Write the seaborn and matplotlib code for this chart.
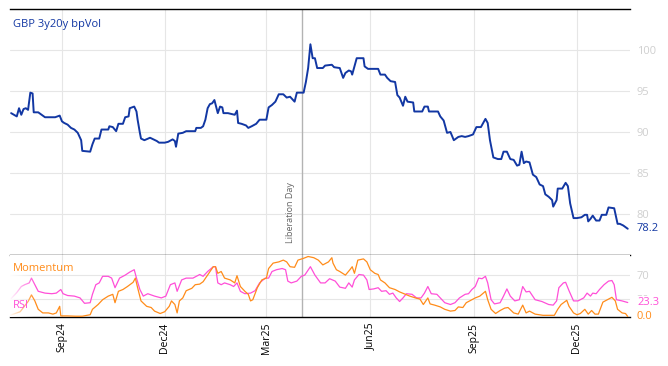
import numpy as np
import pandas as pd
import matplotlib
matplotlib.use("Agg")
import matplotlib.pyplot as plt
import matplotlib.dates as mdates
from matplotlib.patches import Rectangle
import matplotlib.transforms as mtransforms
import seaborn as sns

# ---------------- data (day offsets from start_date) ----------------
start_date = "2024-07-17"
end_offset = 549
event_date = "2025-04-02"
event_label = "Liberation Day"
title = "GBP 3y20y bpVol"

vol_days = [1, 6, 8, 10, 12, 14, 16, 18, 20, 21, 25, 28, 31, 35, 40, 44, 46, 48, 51, 54,
            57, 60, 63, 64, 71, 73, 75, 79, 81, 87, 88, 91, 94, 96, 100, 102, 105, 106, 110, 112,
            113, 115, 116, 119, 124, 127, 130, 132, 137, 140, 144, 146, 147, 149, 153, 156, 164, 165, 169, 171,
            173, 175, 177, 179, 181, 184, 186, 188, 189, 193, 196, 199, 201, 202, 205, 209, 211, 214, 218, 221,
            227, 229, 232, 235, 238, 242, 245, 248, 250, 252, 254, 260, 262, 264, 266, 268, 270, 272, 277, 279,
            285, 287, 292, 295, 297, 300, 302, 303, 305, 307, 313, 314, 317, 326, 328, 332, 334, 337, 341, 343,
            345, 348, 350, 352, 357, 358, 365, 367, 370, 371, 379, 381, 384, 387, 390, 393, 397, 400, 403, 406,
            410, 413, 417, 421, 423, 425, 428, 432, 435, 437, 440, 443, 446, 449, 451, 453, 455, 457, 460, 463,
            466, 469, 472, 474, 477, 480, 481, 484, 485, 489, 492, 494, 496, 499, 502, 506, 509, 511, 512, 514,
            516, 519, 522, 524, 528, 530, 535, 538, 540, 543, 547]
vol_vals = [92.3, 91.9, 92.9, 92.1, 92.8, 92.9, 92.7, 94.8, 94.7, 92.4, 92.4, 92.1, 91.8, 91.8, 91.8, 92.0, 91.3, 91.1, 90.9, 90.5,
            90.3, 89.9, 89.0, 87.7, 87.6, 88.5, 89.2, 89.2, 90.3, 90.3, 90.7, 90.6, 90.1, 91.0, 91.0, 91.8, 91.9, 92.9, 93.1, 92.5,
            91.5, 89.9, 89.2, 89.0, 89.3, 89.1, 88.9, 88.7, 88.7, 88.8, 89.1, 88.9, 88.2, 89.8, 89.9, 90.1, 90.1, 90.5, 90.5, 90.7,
            91.5, 92.9, 93.4, 93.5, 93.9, 92.3, 93.1, 93.0, 92.3, 92.3, 92.2, 92.1, 92.6, 91.1, 91.0, 90.8, 90.5, 90.7, 91.0, 91.5,
            91.5, 93.0, 93.3, 93.7, 94.6, 94.6, 94.2, 94.3, 94.0, 93.7, 94.8, 94.8, 96.1, 97.8, 100.7, 99.0, 99.0, 97.8, 97.8, 98.1,
            98.2, 97.9, 97.8, 96.6, 97.2, 97.5, 97.4, 97.0, 98.0, 99.0, 99.0, 98.0, 97.7, 97.7, 97.0, 97.0, 96.6, 96.2, 96.1, 94.5,
            94.2, 93.2, 94.3, 93.7, 93.6, 92.5, 92.5, 93.1, 93.1, 92.5, 92.5, 91.9, 91.4, 89.9, 90.0, 89.0, 89.4, 89.5, 89.4, 89.5,
            89.7, 90.6, 90.6, 91.6, 91.1, 89.0, 86.9, 86.7, 86.7, 87.6, 87.6, 86.7, 86.6, 85.9, 86.0, 87.6, 86.2, 86.4, 86.3, 84.8,
            84.5, 83.6, 83.4, 82.4, 82.1, 81.7, 80.9, 81.7, 83.1, 83.1, 83.8, 83.4, 81.3, 79.5, 79.5, 79.6, 79.9, 79.9, 79.1, 79.4,
            79.8, 79.2, 79.2, 79.9, 79.9, 80.8, 80.7, 78.8, 78.8, 78.6, 78.2]

mom_days = [0, 9, 16, 19, 22, 25, 29, 34, 38, 41, 44, 45, 51, 58, 64, 71, 73, 78, 82, 87,
            91, 93, 96, 100, 104, 109, 111, 113, 116, 121, 125, 128, 133, 137, 141, 143, 146, 148, 150, 153,
            156, 161, 164, 168, 171, 175, 180, 182, 184, 187, 190, 195, 199, 201, 204, 208, 211, 213, 215, 219,
            223, 227, 229, 233, 238, 242, 245, 248, 252, 255, 260, 264, 269, 273, 277, 282, 285, 286, 289, 292,
            297, 301, 303, 305, 308, 313, 316, 319, 323, 326, 328, 332, 336, 341, 345, 350, 354, 359, 363, 366,
            370, 372, 376, 381, 385, 390, 394, 397, 401, 404, 407, 412, 416, 421, 423, 426, 430, 434, 438, 441,
            446, 450, 454, 457, 460, 465, 472, 482, 485, 488, 493, 495, 499, 502, 505, 509, 512, 515, 518, 521,
            525, 528, 533, 536, 538, 542, 545, 547]
mom_vals = [2, 8, 25, 36, 26, 12, 6, 6, 4, 6, 17, 1, 1, 0.5, 0.5, 3, 12, 20, 28, 34,
            37, 23, 42, 45, 50, 57, 64, 48, 26, 17, 15, 9, 5, 8, 17, 26, 20, 6, 26, 31,
            43, 47, 53, 54, 58, 69, 83, 83, 72, 75, 64, 61, 56, 68, 50, 42, 37, 26, 28, 48,
            61, 64, 80, 89, 91, 94, 91, 83, 82, 94, 97, 100, 98, 94, 86, 91, 98, 89, 78, 75,
            69, 78, 83, 72, 94, 96, 91, 78, 72, 70, 61, 56, 48, 45, 41, 37, 34, 31, 29, 20,
            31, 21, 19, 16, 12, 9, 10, 16, 15, 23, 26, 31, 34, 42, 28, 12, 5, 10, 14, 15,
            6, 4, 19, 6, 9, 4, 2, 2, 12, 20, 27, 17, 6, 3, 5, 12, 4, 10, 4, 4,
            24, 27, 32, 26, 12, 6, 5, 0.0]

rsi_days = [1, 6, 10, 13, 17, 19, 22, 25, 31, 37, 41, 45, 47, 51, 57, 62, 66, 71, 73, 76,
            79, 82, 87, 90, 93, 97, 102, 106, 110, 112, 115, 118, 122, 128, 134, 138, 142, 146, 148, 152,
            156, 162, 165, 168, 171, 175, 180, 182, 184, 187, 190, 195, 198, 201, 204, 208, 213, 217, 221, 226,
            229, 232, 236, 241, 244, 246, 249, 254, 258, 261, 266, 270, 275, 279, 283, 288, 292, 297, 300, 303,
            305, 309, 313, 316, 318, 322, 326, 329, 333, 336, 339, 342, 345, 348, 351, 356, 360, 364, 367, 370,
            373, 378, 381, 385, 390, 394, 398, 403, 406, 409, 412, 415, 418, 421, 423, 426, 429, 434, 437, 440,
            443, 447, 451, 454, 457, 460, 465, 471, 477, 481, 484, 486, 490, 492, 495, 499, 503, 508, 511, 514,
            516, 519, 522, 526, 530, 533, 535, 537, 542, 547]
rsi_vals = [30, 40, 50, 53, 56, 64, 53, 42, 39, 38, 39, 45, 38, 35, 34, 31, 22, 23, 37, 53,
            56, 67, 67, 64, 48, 64, 69, 74, 78, 64, 45, 34, 38, 34, 31, 34, 53, 56, 42, 61,
            64, 64, 67, 70, 67, 75, 83, 83, 56, 53, 56, 53, 50, 56, 42, 38, 39, 43, 56, 64,
            64, 75, 78, 80, 78, 59, 56, 59, 67, 69, 83, 69, 56, 56, 63, 59, 49, 47, 56, 49,
            61, 70, 69, 61, 45, 46, 48, 42, 43, 37, 39, 31, 25, 31, 38, 37, 31, 31, 39, 50,
            38, 37, 31, 23, 20, 23, 31, 37, 38, 45, 50, 64, 63, 67, 56, 28, 21, 23, 34, 46,
            34, 26, 28, 50, 41, 42, 28, 25, 20, 19, 26, 48, 56, 57, 43, 26, 26, 31, 39, 34,
            39, 38, 45, 53, 59, 60, 53, 28, 26, 23.3]

vol_ticks = [80, 85, 90, 95, 100]
osc_ticks = [30, 70]

# ---------------- styling ----------------
BLUE = "#1237a3"
ORANGE = "#ff8c1a"
MAGENTA = "#ff4fd8"
GRID = "#e6e6e6"
TICKLBL = "#cfcfcf"

sns.set_style("white")
plt.rcParams["font.family"] = ["Open Sans", "DejaVu Sans"]

t0 = pd.Timestamp(start_date)
vol_df = pd.DataFrame({"date": t0 + pd.to_timedelta(vol_days, unit="D"), "vol": vol_vals})
mom_df = pd.DataFrame({"date": t0 + pd.to_timedelta(mom_days, unit="D"), "val": mom_vals})
rsi_df = pd.DataFrame({"date": t0 + pd.to_timedelta(rsi_days, unit="D"), "val": rsi_vals})

fig = plt.figure(figsize=(6.68, 3.66), dpi=100)
ax1 = fig.add_axes([10 / 668, 1 - 255 / 366, 620 / 668, 246 / 366])
ax2 = fig.add_axes([10 / 668, 1 - 317 / 366, 620 / 668, 62 / 366], sharex=ax1)

sns.lineplot(data=vol_df, x="date", y="vol", ax=ax1, color=BLUE, lw=1.4, zorder=3)
sns.lineplot(data=rsi_df, x="date", y="val", ax=ax2, color=MAGENTA, lw=0.9, zorder=3)
sns.lineplot(data=mom_df, x="date", y="val", ax=ax2, color=ORANGE, lw=0.9, zorder=3)

ev = pd.Timestamp(event_date)
for ax in (ax1, ax2):
    ax.axvline(ev, color="#b3b3b3", lw=1.0, zorder=2)
    ax.set_xlabel("")
    ax.set_ylabel("")
    ax.grid(True, color=GRID, lw=0.8, zorder=0)
    ax.set_axisbelow(True)
    ax.spines["left"].set_visible(False)
    ax.spines["right"].set_visible(False)
    for s in ("top", "bottom"):
        ax.spines[s].set_color("black")
        ax.spines[s].set_linewidth(1.0)
    ax.yaxis.tick_right()
    ax.tick_params(axis="y", length=0, pad=5, labelcolor=TICKLBL, labelsize=8)
    ax.tick_params(axis="x", direction="in", length=4, width=1, color="black")

ax1.set_xlim(t0, t0 + pd.Timedelta(days=end_offset))
ax1.set_ylim(75, 105)
ax1.set_yticks(vol_ticks)
ax2.set_ylim(-0.8, 102.5)
ax2.set_yticks(osc_ticks)
ax2.spines["top"].set_visible(False)

ax2.xaxis.set_major_locator(mdates.MonthLocator(bymonth=[3, 6, 9, 12]))
ax2.xaxis.set_major_formatter(mdates.DateFormatter("%b%y"))
plt.setp(ax1.get_xticklabels(), visible=False)
ax2.tick_params(axis="x", labelrotation=90, labelsize=7.5, labelcolor="black", pad=4)

# texts
ax1.text(0.005, 0.935, title, transform=ax1.transAxes, color=BLUE, fontsize=8, va="center", ha="left")
off = mtransforms.offset_copy(ax1.transData, fig=fig, x=-7, y=0, units="dots")
ax1.text(ev, 76.5, event_label, rotation=90, ha="right", va="bottom", color="#666666",
         fontsize=6.5, transform=off)

ax1.annotate(f"{vol_vals[-1]:.1f}", xy=(1, vol_vals[-1]), xycoords=("axes fraction", "data"),
             xytext=(5, 0), textcoords="offset points", va="center", ha="left", color=BLUE, fontsize=8)
ax2.annotate(f"{rsi_vals[-1]:.1f}", xy=(1, rsi_vals[-1]), xycoords=("axes fraction", "data"),
             xytext=(5, 0), textcoords="offset points", va="center", ha="left", color=MAGENTA, fontsize=8,
             bbox=dict(boxstyle="square,pad=0.05", fc="white", ec="none"))
ax2.annotate(f"{mom_vals[-1]:.1f}", xy=(1, mom_vals[-1]), xycoords=("axes fraction", "data"),
             xytext=(5, 0), textcoords="offset points", va="center", ha="left", color=ORANGE, fontsize=8,
             annotation_clip=False)

# left fade in oscillator panel
n = 24
for i in range(n):
    ax2.add_patch(Rectangle((i * 0.04 / n, 0), 0.04 / n, 1, transform=ax2.transAxes,
                            facecolor="white", edgecolor="none", alpha=max(0.0, 0.95 * (1 - i / n)),
                            zorder=4))
ax2.text(0.005, 0.78, "Momentum", transform=ax2.transAxes, color=ORANGE, fontsize=8,
         va="center", ha="left", zorder=6)
ax2.text(0.005, 0.18, "RSI", transform=ax2.transAxes, color=MAGENTA, fontsize=8,
         va="center", ha="left", zorder=6)

fig.savefig("out.png", dpi=100)
